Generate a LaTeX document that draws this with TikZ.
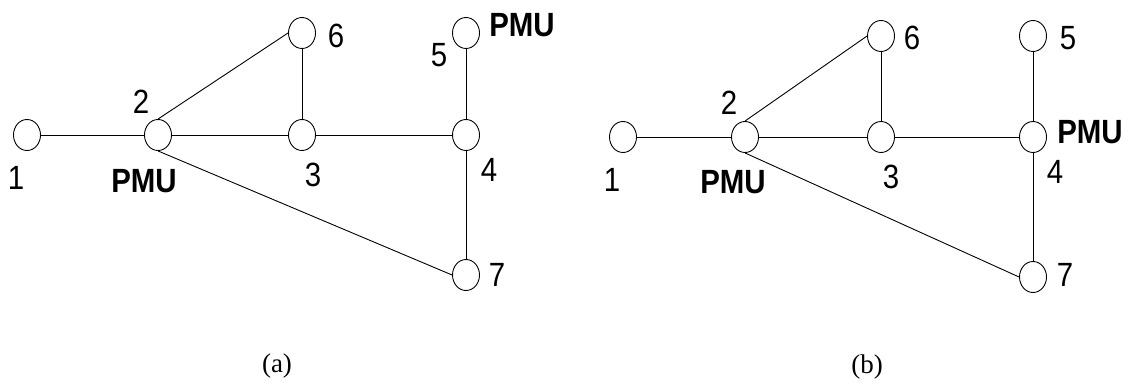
\documentclass[tikz,border=0pt]{standalone}
\usepackage{fontspec}
\usepackage{graphicx}
\setmainfont{Liberation Sans}
\newfontfamily\capfont{Liberation Serif}
\usetikzlibrary{shapes.geometric}
% tall, slightly narrow lettering for the bus numbers
\newcommand{\tall}[1]{\scalebox{0.92}[1.05]{#1}}
\begin{document}
\begin{tikzpicture}[x=1pt,y=-1pt,
  bus/.style={draw,ellipse,minimum width=27pt,minimum height=31pt,inner sep=0pt,line width=0.9pt},
  line/.style={line width=0.9pt},
  num/.style={inner sep=0pt,font=\fontsize{32}{38}\selectfont},
  pmu/.style={inner sep=0pt,font=\fontsize{32}{38}\selectfont\bfseries},
  sublabel/.style={inner sep=0pt,font=\fontsize{27}{32}\selectfont\capfont}]
\useasboundingbox (0,0) rectangle (1130,385);

% ---- network (a): PMUs at buses 2 and 5 ----
\node[bus] (a1) at (27,135) {};
\node[bus] (a2) at (158,135) {};
\node[bus] (a3) at (302,135) {};
\node[bus] (a6) at (302,33) {};
\node[bus] (a4) at (466,135) {};
\node[bus] (a5) at (466,33) {};
\node[bus] (a7) at (466,275) {};
\draw[line] (a1) -- (a2);
\draw[line] (a2) -- (a3);
\draw[line] (a3) -- (a4);
\draw[line] (a2.north) -- (a6.west);
\draw[line] (a6) -- (a3);
\draw[line] (a5) -- (a4);
\draw[line] (a4) -- (a7);
\draw[line] (a2.south) -- (a7.west);
\node[num] (la1) at (16,178) {\tall{1}};
\node[num] (la2) at (141,102) {\tall{2}};
\node[pmu] (pa2) at (144,181) {\tall{PMU}};
\node[num] (la3) at (313,175) {\tall{3}};
\node[num] (la6) at (336,36) {\tall{6}};
\node[num] (la5) at (439,55) {\tall{5}};
\node[pmu] (pa5) at (522,25) {\tall{PMU}};
\node[num] (la4) at (489,170) {\tall{4}};
\node[num] (la7) at (497,275) {\tall{7}};
\node[sublabel] (capa) at (277,366) {(a)};

% ---- network (b): PMUs at buses 2 and 4 ----
\node[bus] (b1) at (623,137) {};
\node[bus] (b2) at (745,137) {};
\node[bus] (b3) at (881,137) {};
\node[bus] (b6) at (881,36) {};
\node[bus] (b4) at (1033,137) {};
\node[bus] (b5) at (1033,36) {};
\node[bus] (b7) at (1033,277) {};
\draw[line] (b1) -- (b2);
\draw[line] (b2) -- (b3);
\draw[line] (b3) -- (b4);
\draw[line] (b2.north) -- (b6.west);
\draw[line] (b6) -- (b3);
\draw[line] (b5) -- (b4);
\draw[line] (b4) -- (b7);
\draw[line] (b2.south) -- (b7.west);
\node[num] (lb1) at (612,180) {\tall{1}};
\node[num] (lb2) at (729,103) {\tall{2}};
\node[pmu] (pb2) at (733,182) {\tall{PMU}};
\node[num] (lb3) at (891,177) {\tall{3}};
\node[num] (lb6) at (912,38) {\tall{6}};
\node[num] (lb5) at (1068,38) {\tall{5}};
\node[pmu] (pb4) at (1090,132) {\tall{PMU}};
\node[num] (lb4) at (1055,172) {\tall{4}};
\node[num] (lb7) at (1065,275) {\tall{7}};
\node[sublabel] (capb) at (867,367) {(b)};
\end{tikzpicture}
\end{document}
